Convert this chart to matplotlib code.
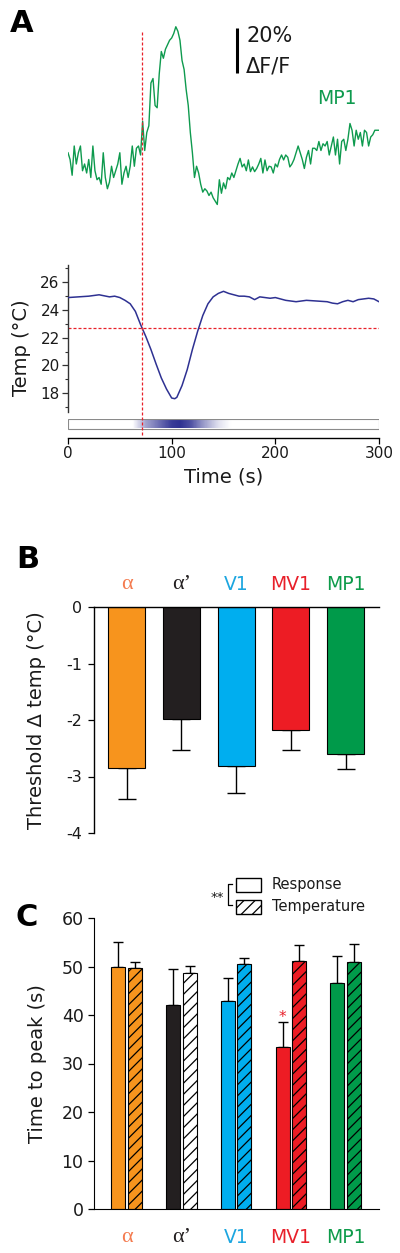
import numpy as np
import matplotlib
matplotlib.use("Agg")
import matplotlib.pyplot as plt
from matplotlib.colors import LinearSegmentedColormap, to_rgb
from matplotlib.transforms import blended_transform_factory
from matplotlib.patches import Rectangle
from matplotlib.lines import Line2D
from matplotlib.ticker import MultipleLocator

plt.rcParams['font.family'] = ['DejaVu Sans']
plt.rcParams['axes.unicode_minus'] = False
plt.rcParams['hatch.linewidth'] = 0.9

# ---------------- Panel A data ----------------
trace_time = np.arange(0, 301, 2)  # s
trace_dff = [
    21, 18, 11, 24, 16, 21, 24, 13, 16, 12,
    18, 10, 24, 13, 9, 10, 7, 21, 10, 5,
    8, 15, 10, 13, 16, 21, 7, 12, 15, 10,
    15, 24, 15, 23, 24, 20, 35, 22, 30, 33,
    52, 54, 42, 41, 56, 66, 63, 67, 69, 71,
    72, 74, 77, 75, 71, 62, 58, 49, 42, 30,
    21, 10, 15, 12, 7, 3.5, 5, 4, 2, 3.5,
    1, -0.5, -2, 9, 3, 7.6, 5, 10, 9, 12,
    10, 13, 16, 18.5, 14.7, 16, 13, 17.8, 12.6, 14.7,
    12.6, 14, 16, 18.5, 12, 17.8, 13, 15, 14.7, 12,
    16, 14.7, 18, 20, 17.8, 20, 19, 14.7, 16, 18,
    21, 24, 21, 18, 14, 19, 22, 16, 23, 23,
    22, 26, 22, 25, 24, 26, 20, 24, 28, 20,
    27, 16, 26, 27, 22, 27, 34, 31, 24, 31,
    27, 30, 24, 31, 30, 24, 28, 29, 31, 31,
    31,
]  # % dF/F
trace_label = "MP1"
scale_bar_pct = 20

temp_time = [0, 10, 20, 30, 40, 45, 50, 55, 60, 65,
             70, 75, 80, 85, 90, 95, 100, 103, 105, 110,
             115, 120, 125, 130, 135, 140, 145, 150, 155, 160,
             165, 170, 175, 180, 185, 190, 195, 200, 210, 220,
             230, 240, 250, 255, 260, 265, 270, 275, 280, 290,
             295, 300]
temp_vals = [24.9, 24.95, 25.0, 25.1, 24.95, 25.0, 24.9, 24.7, 24.45, 23.9,
             22.95, 22.1, 21.15, 20.1, 19.1, 18.3, 17.65, 17.6, 17.7, 18.55,
             19.7, 21.15, 22.45, 23.6, 24.45, 24.95, 25.2, 25.35, 25.2, 25.1,
             25.0, 25.0, 24.95, 24.75, 24.95, 24.9, 24.85, 24.9, 24.7, 24.6,
             24.7, 24.65, 24.6, 24.5, 24.45, 24.6, 24.7, 24.6, 24.75, 24.85,
             24.8, 24.6]
temp_ticks = [18, 20, 22, 24, 26]
time_ticks = [0, 100, 200, 300]
thresh_temp = 22.7
thresh_time = 71.5

# cooling stimulus bar (relative intensity along time)
cool_t = [0, 62, 75, 90, 100, 108, 118, 130, 145, 157, 300]
cool_level = [0, 0, 0.45, 0.75, 0.95, 1.0, 0.85, 0.5, 0.15, 0, 0]

# ---------------- Panel B data ----------------
groups = ['α', 'α’', 'V1', 'MV1', 'MP1']
thresh_mean = [-2.85, -1.98, -2.81, -2.18, -2.61]
thresh_sem = [0.55, 0.55, 0.48, 0.35, 0.26]
b_ticks = [0, -1, -2, -3, -4]

# ---------------- Panel C data ----------------
resp_mean = [50.0, 42.0, 42.9, 33.3, 46.5]
resp_sem = [5.1, 7.4, 4.7, 5.2, 5.7]
tpeak_mean = [49.6, 48.7, 50.6, 51.2, 50.9]
tpeak_sem = [1.3, 1.5, 1.2, 3.2, 3.8]
c_ticks = [0, 10, 20, 30, 40, 50, 60]
legend_labels = ['Response', 'Temperature']

# ---------------- styles ----------------
bar_colors = ['#F7941D', '#231F20', '#00AEEF', '#ED1C24', '#009A4A']
label_colors = ['#F47B4F', '#231F20', '#1CA6E0', '#E8202A', '#0D9B4A']
GREEN = '#0E9A4E'
NAVY = '#2E3192'
RED_D = '#E8202A'
DASH = (0, (2.4, 1.6))
TXT = '#1a1a1a'

W, H = 400, 1253
fig = plt.figure(figsize=(W / 100, H / 100), dpi=100)


def add_ax(x0, y0, x1, y1, **kw):
    return fig.add_axes([x0 / W, 1 - y1 / H, (x1 - x0) / W, (y1 - y0) / H], **kw)


# ---- A: fluorescence trace ----
ax1 = add_ax(68, 20, 379, 215)
ax1.plot(trace_time, trace_dff, color=GREEN, lw=1.0, zorder=3)
ax1.set_xlim(0, 300)
ax1.set_ylim(-6.67, 80)
ax1.axis('off')
ax1.plot([163, 163], [56.4, 56.4 + scale_bar_pct], color='k', lw=2.2,
         solid_capstyle='butt')

# ---- A: temperature ----
ax2 = add_ax(68, 265, 379, 412)
ax2.plot(temp_time, temp_vals, color=NAVY, lw=1.1, zorder=3)
ax2.axhline(thresh_temp, color=RED_D, lw=0.9, ls=DASH)
ax2.set_xlim(0, 300)
ax2.set_ylim(16.64, 27.25)
for s in ['top', 'right', 'bottom']:
    ax2.spines[s].set_visible(False)
ax2.spines['left'].set_color('#333333')
ax2.spines['left'].set_linewidth(1.0)
ax2.set_xticks([])
ax2.set_yticks(temp_ticks)
ax2.yaxis.set_minor_locator(MultipleLocator(1))
ax2.tick_params(axis='y', which='major', direction='out', length=4, width=0.9,
                labelsize=11, pad=2, colors='#333333', labelcolor=TXT)
ax2.tick_params(axis='y', which='minor', direction='out', length=2.5, width=0.8,
                colors='#333333')
ax2.set_ylabel('Temp (°C)', fontsize=14, va='center', color=TXT)
ax2.yaxis.set_label_coords(-0.148, 0.44)

# ---- A: stimulus bar + time axis ----
ax3 = add_ax(68, 419, 379, 438)
cmap_pts = [(t / 300.0, tuple(np.array([1, 1, 1]) * (1 - l) + np.array(to_rgb(NAVY)) * l))
            for t, l in zip(cool_t, cool_level)]
cmap = LinearSegmentedColormap.from_list('cool_bar', cmap_pts)
ax3.imshow(np.linspace(0, 1, 601)[None, :], extent=(0, 300, 0.5, 1.0), aspect='auto',
           cmap=cmap, vmin=0, vmax=1, interpolation='bilinear')
ax3.add_patch(Rectangle((0, 0.5), 300, 0.5, fill=False, ec='#8a8a8a', lw=0.8))
ax3.set_xlim(0, 300)
ax3.set_ylim(0, 1)
for s in ['top', 'right', 'left']:
    ax3.spines[s].set_visible(False)
ax3.spines['bottom'].set_linewidth(1.0)
ax3.set_yticks([])
ax3.set_xticks(time_ticks)
ax3.tick_params(axis='x', direction='out', length=4, width=0.9, labelsize=11, pad=2,
                labelcolor=TXT)
ax3.set_xlabel('Time (s)', fontsize=14, va='center', color=TXT)
ax3.xaxis.set_label_coords(0.5, -2.05)

# threshold time dashed line spanning both A plots
trans = blended_transform_factory(ax2.transData, fig.transFigure)
fig.add_artist(Line2D([thresh_time, thresh_time], [1 - 32 / H, 1 - 437 / H],
                      transform=trans, color=RED_D, lw=0.9, ls=DASH, zorder=2))

# ---- B ----
xpos = np.arange(len(groups))
axB = add_ax(94, 607, 379, 833)
axB.errorbar(xpos, thresh_mean, yerr=[thresh_sem, np.zeros(len(groups))], fmt='none',
             ecolor='k', elinewidth=1.0, capsize=6.4, capthick=1.0, zorder=1)
axB.bar(xpos, thresh_mean, width=0.676, color=bar_colors, edgecolor='k', lw=0.8, zorder=2)
axB.set_xlim(-0.594, 4.61)
axB.set_ylim(-4, 0)
axB.spines['bottom'].set_visible(False)
axB.spines['right'].set_visible(False)
axB.spines['top'].set_linewidth(1.0)
axB.spines['left'].set_linewidth(1.0)
axB.set_xticks([])
axB.set_yticks(b_ticks)
axB.tick_params(axis='y', direction='out', length=4, width=0.9, labelsize=11.5, pad=4.5,
                labelcolor=TXT)
axB.set_ylabel('Threshold Δ temp (°C)', fontsize=14, va='center', color=TXT)
axB.yaxis.set_label_coords(-0.2, 0.5)
for i, (g, c) in enumerate(zip(groups, label_colors)):
    if g.startswith('α'):
        axB.text(i, 0.39, g, color=c, ha='center', va='center', fontsize=16,
                 family=['Liberation Serif', 'DejaVu Serif'], clip_on=False)
    else:
        axB.text(i, 0.39, g, color=c, ha='center', va='center', fontsize=13.5,
                 clip_on=False)

# ---- C ----
axC = add_ax(94, 918, 379, 1209)
bw = 0.256
off = 0.15
axC.errorbar(xpos - off, resp_mean, yerr=[np.zeros(len(groups)), resp_sem], fmt='none',
             ecolor='k', elinewidth=1.0, capsize=3.8, capthick=1.0, zorder=1)
axC.errorbar(xpos + off, tpeak_mean, yerr=[np.zeros(len(groups)), tpeak_sem], fmt='none',
             ecolor='k', elinewidth=1.0, capsize=3.8, capthick=1.0, zorder=1)
axC.bar(xpos - off, resp_mean, width=bw, color=bar_colors, edgecolor='k', lw=0.8, zorder=2)
hatch_fill = [c if i != 1 else 'white' for i, c in enumerate(bar_colors)]
axC.bar(xpos + off, tpeak_mean, width=bw, color=hatch_fill, edgecolor='k', lw=0.8,
        hatch='///', zorder=2)
axC.set_xlim(-0.594, 4.61)
axC.set_ylim(0, 60)
axC.spines['top'].set_visible(False)
axC.spines['right'].set_visible(False)
axC.set_xticks([])
axC.set_yticks(c_ticks)
axC.tick_params(axis='y', direction='out', length=4, width=0.9, labelsize=12.5, pad=3.5,
                labelcolor=TXT)
axC.set_ylabel('Time to peak (s)', fontsize=14, va='center', color=TXT)
axC.yaxis.set_label_coords(-0.197, 0.5)
axC.text(3 - off, 39.5, '*', color=RED_D, ha='center', va='center', fontsize=11)
for i, (g, c) in enumerate(zip(groups, label_colors)):
    if g.startswith('α'):
        axC.text(i, -5.8, g, color=c, ha='center', va='center', fontsize=16,
                 family=['Liberation Serif', 'DejaVu Serif'], clip_on=False)
    else:
        axC.text(i, -5.8, g, color=c, ha='center', va='center', fontsize=13.5,
                 clip_on=False)

# ---- overlay annotations (pixel coords) ----
ov = fig.add_axes([0, 0, 1, 1], zorder=10)
ov.set_xlim(0, W)
ov.set_ylim(H, 0)
ov.axis('off')
for lab, (x, y) in zip(['A', 'B', 'C'], [(21.5, 24), (27.5, 559), (27, 917)]):
    ov.text(x, y, lab, fontsize=22, fontweight='bold', ha='center', va='center', color='k')
ov.text(246, 36, f'{scale_bar_pct}%', fontsize=15, ha='left', va='center', color=TXT)
ov.text(246, 66, 'ΔF/F', fontsize=15, ha='left', va='center', color=TXT)
ov.text(337, 99, trace_label, fontsize=13.5, ha='center', va='center', color=GREEN)

# legend for C
ov.add_patch(Rectangle((236, 878), 25, 14, facecolor='white', edgecolor='k', lw=1.0))
ov.add_patch(Rectangle((236, 900), 25, 14, facecolor='white', edgecolor='k', lw=1.0,
                       hatch='///'))
ov.text(272, 885, legend_labels[0], fontsize=10.5, ha='left', va='center', color=TXT)
ov.text(272, 907, legend_labels[1], fontsize=10.5, ha='left', va='center', color=TXT)
ov.plot([232, 228, 228, 232], [884, 884, 905, 905], color='k', lw=0.9)
ov.text(224, 897, '**', fontsize=9.5, ha='right', va='center', color=TXT)

fig.savefig('out.png', dpi=100)
